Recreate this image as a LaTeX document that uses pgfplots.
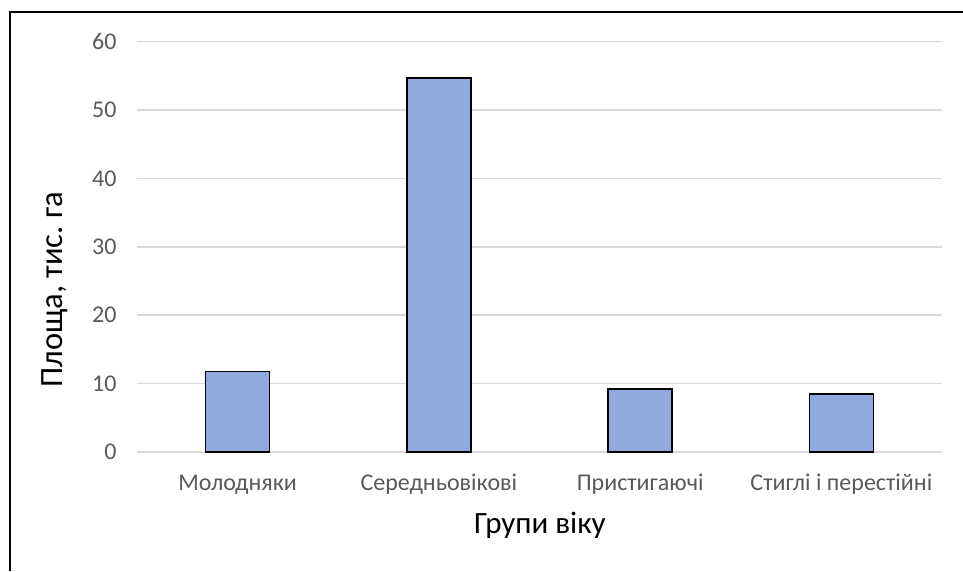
\documentclass[border=0pt]{standalone}
\usepackage{pgfplots}
\pgfplotsset{compat=1.18}
\usepackage{fontspec}
\setmainfont{Carlito}
\frenchspacing
\definecolor{barblue}{HTML}{8FAADC}
\definecolor{gridgray}{HTML}{D9D9D9}
\definecolor{ticktext}{HTML}{595959}
\begin{document}
\begin{tikzpicture}[x=1pt,y=1pt]
\useasboundingbox (0,0) rectangle (963,571);
\draw[line width=2.8pt,black] (10,0) -- (10,559) -- (963,559);
\begin{axis}[
  at={(137pt,119pt)}, anchor=south west,
  scale only axis,
  width=805pt, height=410.4pt,
  xmin=-0.5, xmax=3.5, ymin=0, ymax=60,
  enlargelimits=false,
  axis line style={draw=none},
  ytick={0,10,...,60},
  xtick={0,1,2,3},
  xticklabels={Молодняки,Середньовікові,Пристигаючі,Стиглі і перестійні},
  tick style={draw=none},
  ymajorgrids,
  grid style={gridgray, line width=1.5pt},
  /pgf/number format/assume math mode=true,
  ticklabel style={font=\fontsize{24}{28}\selectfont, text=ticktext},
  yticklabel style={xshift=-17pt},
  xticklabel style={anchor=base, yshift=-38pt},
  xlabel={Групи віку},
  ylabel={Площа, тис. га},
  every axis x label/.style={at={(axis description cs:0.5006,-0.178)}, anchor=center, font=\fontsize{31}{36}\selectfont, text=black},
  every axis y label/.style={at={(axis description cs:-0.1019,0.395)}, anchor=center, rotate=90, font=\fontsize{32.5}{38}\selectfont, text=black},
]
\addplot[ybar, bar width=64pt, fill=barblue, draw=black, line width=1.5pt] coordinates {(0,11.8) (1,54.7) (2,9.2) (3,8.5)};
\end{axis}
\end{tikzpicture}
\end{document}
